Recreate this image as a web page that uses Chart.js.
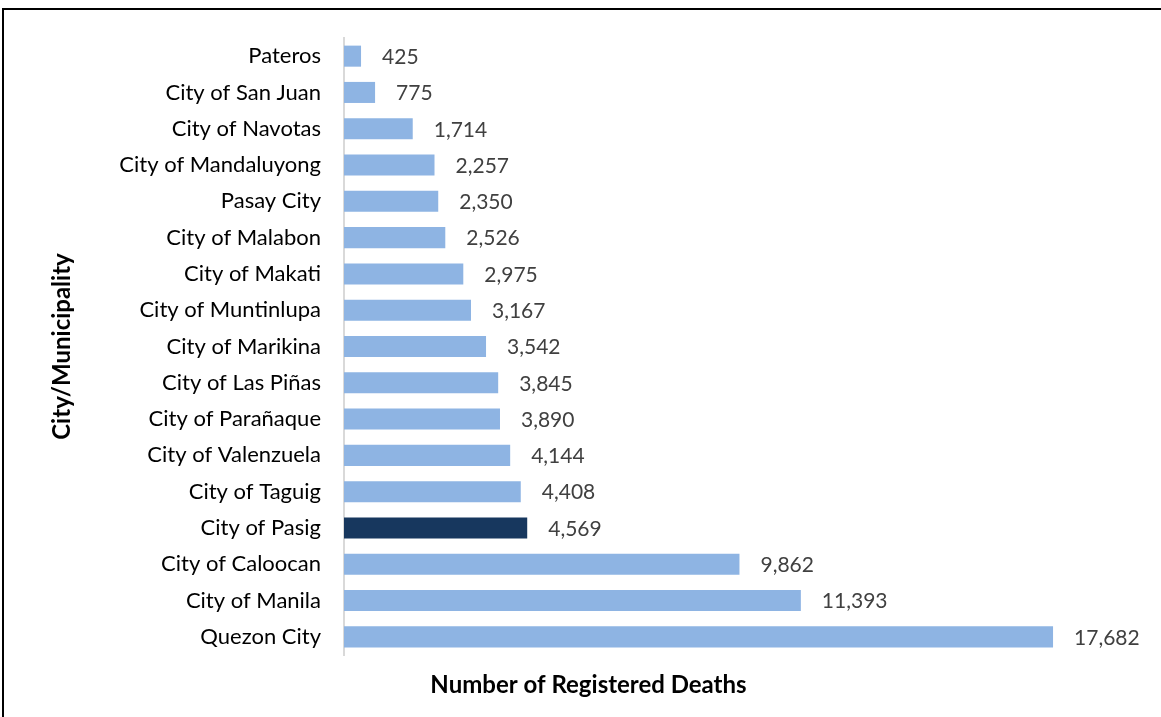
<!DOCTYPE html>
<html>
<head>
<meta charset="utf-8">
<script src="https://cdn.jsdelivr.net/npm/chart.js@4"></script>
<style>
  html, body { margin: 0; padding: 0; background: #fff; overflow: hidden; }
  #frame {
    position: absolute; left: 2px; top: 8px; width: 1200px; height: 800px;
    border: 2px solid #000; box-sizing: border-box;
  }
  #wrap { position: absolute; left: 0; top: 0; width: 1161px; height: 717px; }
</style>
</head>
<body>
<div id="frame"></div>
<div id="wrap"><canvas id="chart" width="1161" height="717"></canvas></div>
<script>
const cities = [
  "Pateros", "City of San Juan", "City of Navotas", "City of Mandaluyong",
  "Pasay City", "City of Malabon", "City of Makati", "City of Muntinlupa",
  "City of Marikina", "City of Las Piñas", "City of Parañaque",
  "City of Valenzuela", "City of Taguig", "City of Pasig",
  "City of Caloocan", "City of Manila", "Quezon City"
];
const deaths = [
  425, 775, 1714, 2257, 2350, 2526, 2975, 3167, 3542, 3845, 3890,
  4144, 4408, 4569, 9862, 11393, 17682
];
const highlight = "City of Pasig";
const xTitle = "Number of Registered Deaths";

const barColors = cities.map((c) => (c === highlight ? "#17375E" : "#8EB4E3"));

// value next to each bar + the x axis title (centred on the whole frame)
const valueLabels = {
  id: "valueLabels",
  afterDatasetsDraw(chart) {
    const ctx = chart.ctx;
    const meta = chart.getDatasetMeta(0);
    ctx.save();
    ctx.font = "21px Lato";
    ctx.fillStyle = "#404040";
    ctx.textAlign = "left";
    ctx.textBaseline = "middle";
    meta.data.forEach((bar, i) => {
      ctx.fillText(deaths[i].toLocaleString("en-US"), bar.x + 21, bar.y + 1);
    });

    ctx.font = "bold 24px Lato";
    ctx.fillStyle = "#000";
    ctx.textAlign = "center";
    ctx.fillText(xTitle, chart.width / 2 + 8, 685);
    ctx.restore();
  },
};

const ctx = document.getElementById("chart").getContext("2d");
new Chart(ctx, {
  type: "bar",
  data: {
    labels: cities,
    datasets: [
      {
        data: deaths,
        backgroundColor: barColors,
        borderWidth: 0,
        barPercentage: 0.58,
        categoryPercentage: 1,
      },
    ],
  },
  options: {
    indexAxis: "y",
    responsive: false,
    animation: false,
    layout: { padding: { top: 38, right: 15, left: 0, bottom: 0 } },
    plugins: {
      legend: { display: false },
      tooltip: { enabled: false },
    },
    scales: {
      x: {
        min: 0,
        max: 20000,
        grid: { display: false },
        border: { display: false },
        ticks: { display: false },
        afterFit(scale) {
          scale.height = 62;
        },
      },
      y: {
        grid: { display: false },
        border: { display: true, color: "#D9D9D9", width: 2 },
        ticks: {
          color: "#000",
          padding: 15,
          font: { family: "Lato", size: 22 },
        },
        title: {
          display: true,
          text: "City/Municipality",
          color: "#000",
          font: { family: "Lato", size: 24, weight: "bold" },
          padding: { top: 48, bottom: 0 },
        },
        afterFit(scale) {
          scale.width = 344;
        },
      },
    },
  },
  plugins: [valueLabels],
});
</script>
</body>
</html>
